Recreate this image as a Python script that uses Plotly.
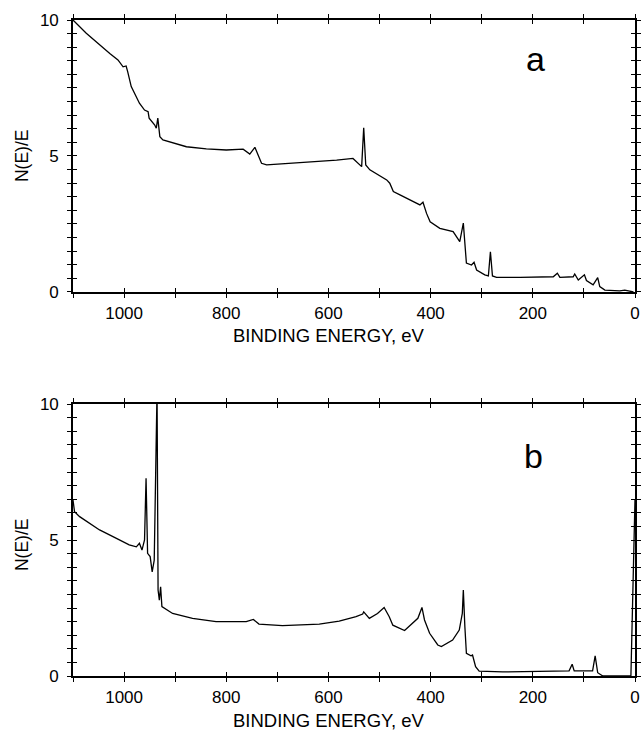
import plotly.graph_objects as go

# ---- data: panel a ----
a_energy = [1100, 1074, 1028, 1012, 1002, 996, 993, 986, 970, 960, 953, 951, 940, 937, 934, 930,
            924, 904, 878, 839, 800, 767, 754, 744, 731, 721, 689, 656, 620, 584, 552, 542, 535,
            531, 527, 519, 486, 480, 473, 460, 421, 415, 408, 401, 382, 356, 343, 336, 330, 320,
            315, 310, 294, 287, 283, 279, 271, 225, 160, 152, 147, 121, 118, 111, 99, 95, 82, 73,
            69, 59, 30, 20, 3]
a_intensity = [10.0, 9.51, 8.77, 8.53, 8.28, 8.31, 8.10, 7.55, 6.94, 6.69, 6.63, 6.39, 6.14, 6.02,
               6.39, 5.71, 5.59, 5.47, 5.34, 5.26, 5.22, 5.25, 5.07, 5.32, 4.73, 4.67, 4.71, 4.75,
               4.79, 4.85, 4.91, 4.73, 4.61, 6.04, 4.67, 4.49, 4.12, 4.00, 3.69, 3.57, 3.20, 3.30,
               2.89, 2.58, 2.34, 2.22, 1.85, 2.53, 1.06, 0.99, 1.09, 0.81, 0.63, 0.59, 1.48, 0.59,
               0.54, 0.54, 0.56, 0.69, 0.54, 0.56, 0.66, 0.44, 0.63, 0.42, 0.26, 0.53, 0.20, 0.07,
               0.04, 0.07, 0.0]

# ---- data: panel b ----
b_energy = [1100, 1097, 1087, 1048, 1015, 990, 976, 970, 965, 960, 957, 954, 949, 945, 941, 937.5,
            935.5, 933.5, 931, 928.5, 926, 905, 866, 820, 761, 747, 736, 690, 618, 579, 546, 533,
            531, 520, 504, 491, 481, 474, 451, 425, 417, 412, 402, 386, 379, 357, 344, 338, 336,
            333, 330, 321, 318, 312, 305, 259, 161, 129, 123, 119, 83, 78, 73, 63, 8, 0]
b_intensity = [6.47, 6.04, 5.86, 5.37, 5.06, 4.82, 4.75, 4.88, 4.63, 5.0, 7.27, 4.51, 4.39, 3.83,
               4.26, 8.31, 10.5, 3.16, 2.79, 3.28, 2.55, 2.30, 2.12, 2.0, 2.0, 2.08, 1.91, 1.85,
               1.91, 2.02, 2.18, 2.28, 2.36, 2.12, 2.30, 2.52, 2.18, 1.87, 1.67, 2.12, 2.52, 2.06,
               1.57, 1.14, 1.08, 1.32, 1.69, 2.30, 3.16, 1.81, 0.83, 0.74, 0.77, 0.34, 0.18, 0.15,
               0.16, 0.19, 0.43, 0.19, 0.19, 0.74, 0.12, 0.0, 0.0, 6.5]

# ---- ticks ----
x_tick_vals = [1100, 1000, 900, 800, 700, 600, 500, 400, 300, 200, 100, 0]
x_tick_text = ["", "1000", "", "800", "", "600", "", "400", "", "200", "", "0"]
y_tick_vals = [i * 0.5 for i in range(21)]
y_tick_text = ["0" if v == 0 else "5" if v == 5 else "10" if v == 10 else "" for v in y_tick_vals]

x_title = "BINDING ENERGY, eV"
y_title = "N(E)/E"
panel_labels = ["a", "b"]

FONT = "Liberation Sans, Arial, Helvetica, sans-serif"
BLACK = "#000000"

fig = go.Figure()
fig.add_trace(go.Scatter(x=a_energy, y=a_intensity, mode="lines", xaxis="x", yaxis="y",
                         line=dict(color=BLACK, width=1.3), showlegend=False, hoverinfo="skip"))
fig.add_trace(go.Scatter(x=b_energy, y=b_intensity, mode="lines", xaxis="x2", yaxis="y2",
                         line=dict(color=BLACK, width=1.3), showlegend=False, hoverinfo="skip"))
# empty traces for the overlay axes that draw the inner half of each tick
for xa, ya in [("x3", "y3"), ("x4", "y4")]:
    fig.add_trace(go.Scatter(x=[None], y=[None], xaxis=xa, yaxis=ya, mode="lines",
                             showlegend=False, hoverinfo="skip"))

top_dom = [0.5854, 1.0]
bot_dom = [0.0, 0.4146]
TICKFONT = dict(family=FONT, size=17, color=BLACK)
TITLEFONT = dict(family=FONT, size=18.5, color=BLACK)


def xax(anchor, overlay=None):
    d = dict(range=[1100, 0], autorange=False, domain=[0, 1], anchor=anchor,
             tickmode="array", tickvals=x_tick_vals, showgrid=False, zeroline=False,
             automargin=False, ticklen=4, tickwidth=1.3, tickcolor=BLACK, mirror="ticks")
    if overlay is None:
        d.update(ticktext=x_tick_text, ticks="outside", showline=True,
                 linecolor=BLACK, linewidth=1.6, tickfont=TICKFONT, ticklabelstandoff=1)
    else:
        d.update(overlaying=overlay, ticks="inside", showline=False, showticklabels=False)
    return d


def yax(anchor, domain, overlay=None):
    d = dict(range=[0, 10], autorange=False, domain=domain, anchor=anchor,
             tickmode="array", tickvals=y_tick_vals, showgrid=False, zeroline=False,
             automargin=False, ticklen=4, tickwidth=1.3, tickcolor=BLACK, mirror="ticks")
    if overlay is None:
        d.update(ticktext=y_tick_text, ticks="outside", showline=True,
                 linecolor=BLACK, linewidth=1.6, tickfont=TICKFONT, ticklabelstandoff=5)
    else:
        d.update(overlaying=overlay, ticks="inside", showline=False, showticklabels=False)
    return d


annotations = [
    dict(text=panel_labels[0], x=194, y=8.55, xref="x", yref="y", showarrow=False,
         xanchor="center", yanchor="middle", font=dict(family=FONT, size=34, color=BLACK)),
    dict(text=panel_labels[1], x=199, y=8.1, xref="x2", yref="y2", showarrow=False,
         xanchor="center", yanchor="middle", font=dict(family=FONT, size=34, color=BLACK)),
]
# axis titles (x titles sit slightly left of the panel centre in the original)
for ty in [0.5183, -0.0671]:
    annotations.append(dict(text=x_title, x=0.4555, y=ty, xref="paper", yref="paper",
                            showarrow=False, xanchor="center", yanchor="middle",
                            font=TITLEFONT))
for ty in [0.7927, 0.1997]:
    annotations.append(dict(text=y_title, x=-0.0907, y=ty, xref="paper", yref="paper",
                            showarrow=False, xanchor="center", yanchor="middle",
                            textangle=-90, font=dict(family=FONT, size=17.5, color=BLACK)))

fig.update_layout(
    width=641, height=734,
    margin=dict(l=73, r=6, t=20, b=58),
    paper_bgcolor="white", plot_bgcolor="white",
    xaxis=xax("y"),
    yaxis=yax("x", top_dom),
    xaxis2=xax("y2"),
    yaxis2=yax("x2", bot_dom),
    xaxis3=xax("y3", overlay="x"),
    yaxis3=yax("x3", top_dom, overlay="y"),
    xaxis4=xax("y4", overlay="x2"),
    yaxis4=yax("x4", bot_dom, overlay="y2"),
    annotations=annotations,
)

fig.write_html("out.html", post_script="document.body.style.margin='0px';",
               config={"displayModeBar": False})
